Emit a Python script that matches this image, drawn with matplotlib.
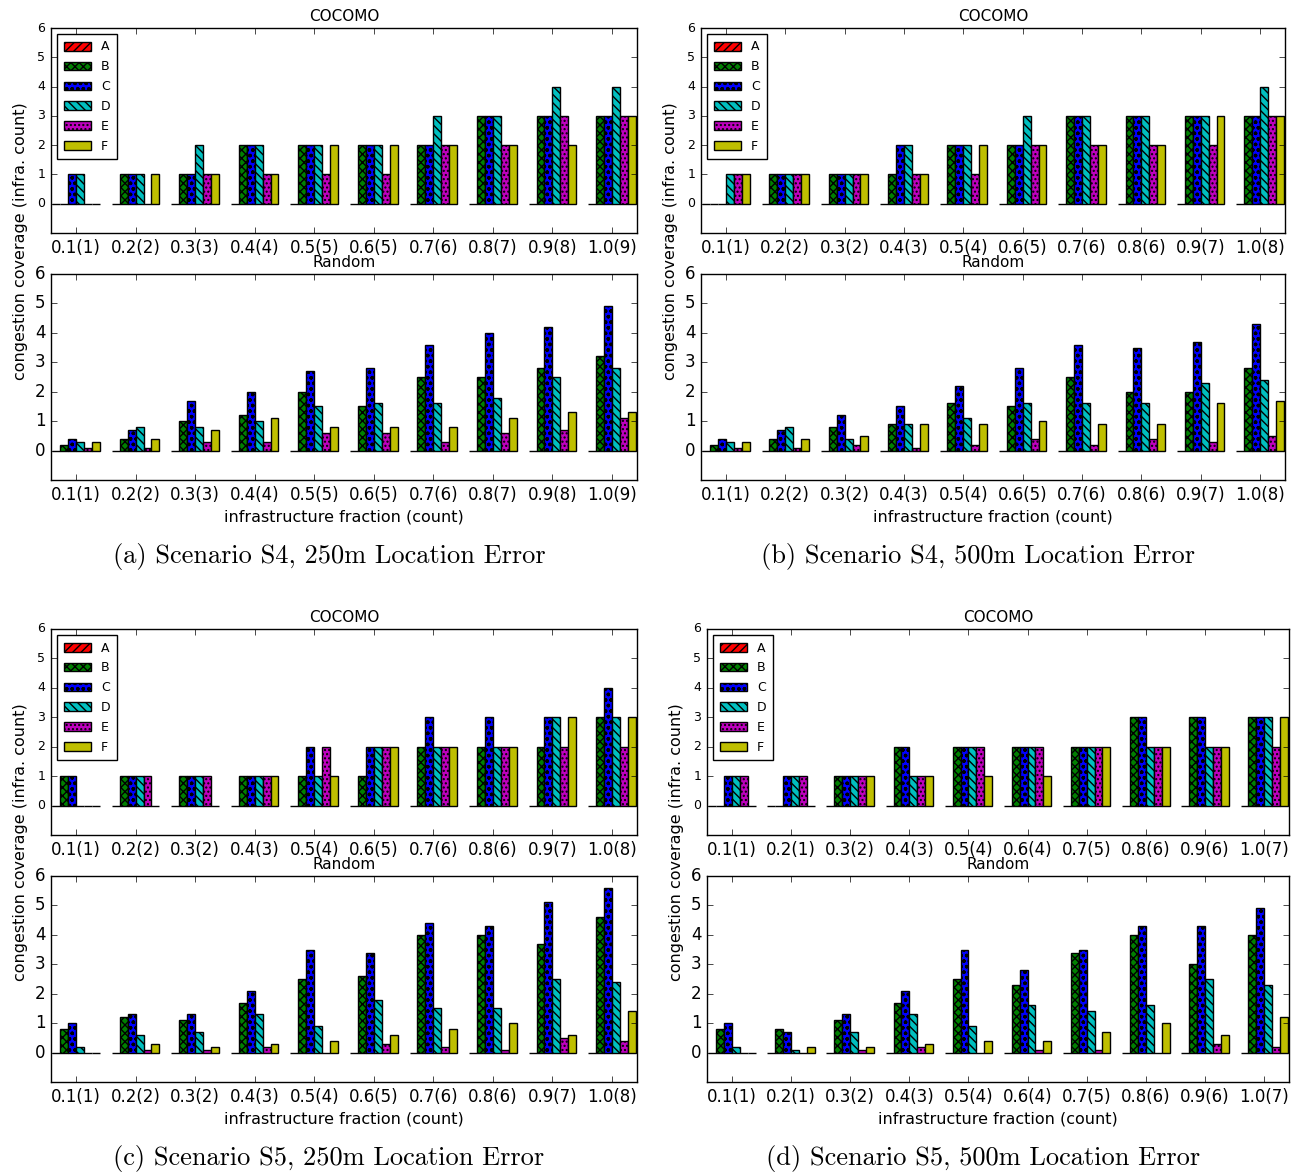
import numpy as np
import matplotlib
matplotlib.use('Agg')
import matplotlib.pyplot as plt

plt.style.use('classic')
plt.rcParams['figure.facecolor'] = 'white'
plt.rcParams['savefig.facecolor'] = 'white'
plt.rcParams['hatch.linewidth'] = 1.0

series = ['A', 'B', 'C', 'D', 'E', 'F']
colors = ['r', 'g', 'b', 'c', 'm', 'y']
hatches = ['////', 'xxxx', 'ooo', '\\\\\\\\', '....', '']

# x tick labels
labels_a = ['0.1(1)', '0.2(2)', '0.3(3)', '0.4(4)', '0.5(5)', '0.6(5)', '0.7(6)', '0.8(7)', '0.9(8)', '1.0(9)']
labels_b = ['0.1(1)', '0.2(2)', '0.3(2)', '0.4(3)', '0.5(4)', '0.6(5)', '0.7(6)', '0.8(6)', '0.9(7)', '1.0(8)']
labels_c = ['0.1(1)', '0.2(2)', '0.3(2)', '0.4(3)', '0.5(4)', '0.6(5)', '0.7(6)', '0.8(6)', '0.9(7)', '1.0(8)']
labels_d = ['0.1(1)', '0.2(1)', '0.3(2)', '0.4(3)', '0.5(4)', '0.6(4)', '0.7(5)', '0.8(6)', '0.9(6)', '1.0(7)']

# rows: A..F
a_cocomo = [[0, 0, 0, 0, 0, 0, 0, 0, 0, 0],
            [0, 1, 1, 2, 2, 2, 2, 3, 3, 3],
            [1, 1, 1, 2, 2, 2, 2, 3, 3, 3],
            [1, 1, 2, 2, 2, 2, 3, 3, 4, 4],
            [0, 0, 1, 1, 1, 1, 2, 2, 3, 3],
            [0, 1, 1, 1, 2, 2, 2, 2, 2, 3]]
a_random = [[0, 0, 0, 0, 0, 0, 0, 0, 0, 0],
            [0.2, 0.4, 1.0, 1.2, 2.0, 1.5, 2.5, 2.5, 2.8, 3.2],
            [0.4, 0.7, 1.7, 2.0, 2.7, 2.8, 3.6, 4.0, 4.2, 4.9],
            [0.3, 0.8, 0.8, 1.0, 1.5, 1.6, 1.6, 1.8, 2.5, 2.8],
            [0.1, 0.1, 0.3, 0.3, 0.6, 0.6, 0.3, 0.6, 0.7, 1.1],
            [0.3, 0.4, 0.7, 1.1, 0.8, 0.8, 0.8, 1.1, 1.3, 1.3]]

b_cocomo = [[0, 0, 0, 0, 0, 0, 0, 0, 0, 0],
            [0, 1, 1, 1, 2, 2, 3, 3, 3, 3],
            [0, 1, 1, 2, 2, 2, 3, 3, 3, 3],
            [1, 1, 1, 2, 2, 3, 3, 3, 3, 4],
            [1, 1, 1, 1, 1, 2, 2, 2, 2, 3],
            [1, 1, 1, 1, 2, 2, 2, 2, 3, 3]]
b_random = [[0, 0, 0, 0, 0, 0, 0, 0, 0, 0],
            [0.2, 0.4, 0.8, 0.9, 1.6, 1.5, 2.5, 2.0, 2.0, 2.8],
            [0.4, 0.7, 1.2, 1.5, 2.2, 2.8, 3.6, 3.5, 3.7, 4.3],
            [0.3, 0.8, 0.4, 0.9, 1.1, 1.6, 1.6, 1.6, 2.3, 2.4],
            [0.1, 0.1, 0.2, 0.1, 0.2, 0.4, 0.2, 0.4, 0.3, 0.5],
            [0.3, 0.4, 0.5, 0.9, 0.9, 1.0, 0.9, 0.9, 1.6, 1.7]]

c_cocomo = [[0, 0, 0, 0, 0, 0, 0, 0, 0, 0],
            [1, 1, 1, 1, 1, 1, 2, 2, 2, 3],
            [1, 1, 1, 1, 2, 2, 3, 3, 3, 4],
            [0, 1, 1, 1, 1, 2, 2, 2, 3, 3],
            [0, 1, 1, 1, 2, 2, 2, 2, 2, 2],
            [0, 0, 0, 1, 1, 2, 2, 2, 3, 3]]
c_random = [[0, 0, 0, 0, 0, 0, 0, 0, 0, 0],
            [0.8, 1.2, 1.1, 1.7, 2.5, 2.6, 4.0, 4.0, 3.7, 4.6],
            [1.0, 1.3, 1.3, 2.1, 3.5, 3.4, 4.4, 4.3, 5.1, 5.6],
            [0.2, 0.6, 0.7, 1.3, 0.9, 1.8, 1.5, 1.5, 2.5, 2.4],
            [0, 0.1, 0.1, 0.2, 0, 0.3, 0.2, 0.1, 0.5, 0.4],
            [0, 0.3, 0.2, 0.3, 0.4, 0.6, 0.8, 1.0, 0.6, 1.4]]

d_cocomo = [[0, 0, 0, 0, 0, 0, 0, 0, 0, 0],
            [0, 0, 1, 2, 2, 2, 2, 3, 3, 3],
            [1, 1, 1, 2, 2, 2, 2, 3, 3, 3],
            [1, 1, 1, 1, 2, 2, 2, 2, 2, 3],
            [1, 1, 1, 1, 2, 2, 2, 2, 2, 2],
            [0, 0, 1, 1, 1, 1, 2, 2, 2, 3]]
d_random = [[0, 0, 0, 0, 0, 0, 0, 0, 0, 0],
            [0.8, 0.8, 1.1, 1.7, 2.5, 2.3, 3.4, 4.0, 3.0, 4.0],
            [1.0, 0.7, 1.3, 2.1, 3.5, 2.8, 3.5, 4.3, 4.3, 4.9],
            [0.2, 0.1, 0.7, 1.3, 0.9, 1.6, 1.4, 1.6, 2.5, 2.3],
            [0, 0, 0.1, 0.2, 0, 0.1, 0.1, 0, 0.3, 0.2],
            [0, 0.2, 0.2, 0.3, 0.4, 0.4, 0.7, 1.0, 0.6, 1.2]]

captions = ['(a) Scenario S4, 250m Location Error',
            '(b) Scenario S4, 500m Location Error',
            '(c) Scenario S5, 250m Location Error',
            '(d) Scenario S5, 500m Location Error']

W, H = 1301, 1173
fig = plt.figure(figsize=(W / 100.0, H / 100.0), dpi=100)


def rect(l, t, r, b):
    return [l / W, 1 - b / H, (r - l) / W, (b - t) / H]


def draw(ax, data, labels, title, legend=False, ysize=12, xlabel=False):
    ind = np.arange(len(labels))
    width = 0.8 / len(series)
    for i, s in enumerate(series):
        ax.bar(ind - 0.4 + i * width, data[i], width, align='edge', color=colors[i],
               hatch=hatches[i], edgecolor='k', linewidth=1.0, label=s)
    ax.set_xlim(-0.42, 9.42)
    ax.set_ylim(-1, 6)
    ax.set_yticks(range(0, 7))
    ax.set_xticks(ind)
    ax.set_xticklabels(labels, fontsize=12)
    ax.tick_params(axis='y', labelsize=ysize)
    ax.set_title(title, fontsize=11, pad=5)
    if xlabel:
        ax.set_xlabel('infrastructure fraction (count)', fontsize=11.5, labelpad=4)
    if legend:
        ax.legend(loc='upper left', fontsize=9, fancybox=False, borderaxespad=0.5,
                  handlelength=2.2, labelspacing=0.55, borderpad=0.5)


panels = [
    (51, 637, 28, 233, 274, 480, a_cocomo, a_random, labels_a),
    (701, 1285, 28, 233, 274, 480, b_cocomo, b_random, labels_b),
    (51, 637, 629, 835, 876, 1082, c_cocomo, c_random, labels_c),
    (707, 1289, 629, 835, 876, 1082, d_cocomo, d_random, labels_d),
]

for k, (l, r, t1, b1, t2, b2, coco, rnd, labels) in enumerate(panels):
    ax1 = fig.add_axes(rect(l, t1, r, b1))
    draw(ax1, coco, labels, 'COCOMO', legend=True, ysize=9)
    ax2 = fig.add_axes(rect(l, t2, r, b2))
    draw(ax2, rnd, labels, 'Random', ysize=12, xlabel=True)
    fig.text((l - 30) / W, 1 - ((t1 + b2) / 2 - 13) / H, 'congestion coverage (infra. count)',
             rotation=90, ha='center', va='center', fontsize=11.5)
    cy = b2 + 76
    fig.text(((l + r) / 2 - 15) / W, 1 - cy / H, captions[k], ha='center', va='center',
             fontsize=19, family='cmr10')

fig.savefig('out.png', dpi=100)
